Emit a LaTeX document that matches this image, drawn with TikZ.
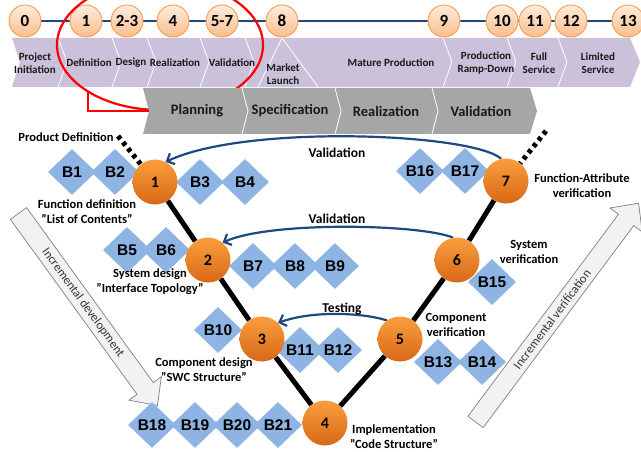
\documentclass[tikz,border=0pt]{standalone}
\usepackage{fontspec}
\setmainfont{Carlito}
\newfontfamily\arialfont{Liberation Sans}
\usetikzlibrary{shapes.geometric,arrows.meta,backgrounds}

\definecolor{lavender}{RGB}{204,193,218}
\definecolor{phasegray}{RGB}{166,166,166}
\definecolor{diamondblue}{RGB}{141,180,226}
\definecolor{arrowblue}{RGB}{31,73,125}
\definecolor{peachtop}{RGB}{253,236,222}
\definecolor{peachbot}{RGB}{250,190,140}
\definecolor{peachline}{RGB}{247,150,70}
\definecolor{orangetop}{RGB}{250,158,62}
\definecolor{orangebot}{RGB}{216,104,22}
\definecolor{incfill}{RGB}{242,242,242}
\definecolor{incline}{RGB}{127,127,127}

\begin{document}
\begin{tikzpicture}[x=1pt,y=-1pt,
  milestone/.style={circle,draw=peachline,line width=0.8pt,top color=peachtop,bottom color=peachbot,minimum size=32pt,inner sep=0pt,font=\fontsize{17}{17}\selectfont\bfseries},
  vnode/.style={circle,top color=orangetop,bottom color=orangebot,minimum size=45pt,inner sep=0pt,font=\fontsize{16}{16}\selectfont\bfseries},
  bbox/.style={diamond,fill=diamondblue,minimum width=48pt,minimum height=46pt,inner sep=0pt,font=\arialfont\fontsize{15.5}{15.5}\selectfont\bfseries},
  phase/.style={font=\fontsize{11}{13}\selectfont\bfseries,align=center,text=black!90},
  stage/.style={font=\fontsize{14.5}{14.5}\selectfont\bfseries,text=black!90},
  vlabel/.style={font=\fontsize{12.5}{15}\selectfont\bfseries,align=center},
  flowlabel/.style={font=\fontsize{13.5}{13.5}\selectfont\bfseries},
  flow/.style={draw=arrowblue,line width=2.2pt,-{Straight Barb[length=6pt,width=12pt]}},
  vline/.style={line width=5pt},
  incarrow/.style={fill=incfill,draw=incline,line width=0.7pt},
  inctext/.style={font=\fontsize{12.5}{12.5}\selectfont,text=black!80,transform shape}]

\useasboundingbox (0,0) rectangle (641,452);

\fill[lavender] (12,38) -- (630,38) -- (640,62) -- (630,87) -- (12,87) -- (20,62) -- cycle;

\foreach \bx in {58,112,147,200,245,443,507,558}
  \draw[white,line width=0.8pt] (\bx,38) -- (\bx+9,62) -- (\bx,87);

\draw[white,line width=0.8pt] (258,87) -- (282,38) -- (318,87);

\node[phase] (ph0) at (35,63) {Project\\Initiation};
\node[phase] (ph1) at (89,63) {Definition};
\node[phase] (ph2) at (131,63) {Design};
\node[phase] (ph3) at (175,63) {Realization};
\node[phase] (ph4) at (232,63) {Validation};
\node[phase] (ph5) at (283,74) {Market\\Launch};
\node[phase] (ph6) at (391,63) {Mature Production};
\node[phase] (ph7) at (486,63) {Production\\Ramp-Down};
\node[phase] (ph8) at (539,63) {Full\\Service};
\node[phase] (ph9) at (598,63) {Limited\\Service};

\node[milestone] (m0) at (25,21) {0};
\node[milestone] (m1) at (86,21) {1};
\node[milestone] (m23) at (127,21) {2-3};
\node[milestone] (m4) at (173,21) {4};
\node[milestone] (m57) at (222,21) {5-7};
\node[milestone] (m8) at (282,21) {8};
\node[milestone] (m9) at (444,21) {9};
\node[milestone] (m10) at (502,21) {10};
\node[milestone] (m11) at (535,21) {11};
\node[milestone] (m12) at (571,21) {12};
\node[milestone] (m13) at (628,21) {13};

\draw[red,line width=2.2pt] (160,45) ellipse [x radius=103, y radius=65];

\fill[phasegray] (143,88) -- (530,88) -- (537,111) -- (530,134) -- (143,134) -- (149,111) -- cycle;

\foreach \bx in {242,335,432}
  \draw[white,line width=0.8pt] (\bx,88) -- (\bx+6,111) -- (\bx,134);

\node[stage] (st1) at (197,111) {Planning};
\node[stage] (st2) at (290,111) {Specification};
\node[stage] (st3) at (386,111) {Realization};
\node[stage] (st4) at (481,111) {Validation};

\coordinate (redfoot) at (88,91);
\coordinate (plannotch) at (149,111);
\draw[red,line width=2.2pt] (redfoot) -- (88,111) -- (plannotch);

\begin{scope}[shift={(18.5,213.5)},rotate=-54.1]
  \filldraw[incarrow] (0,-10) -- (216,-10) -- (216,-20) -- (237,0) -- (216,20) -- (216,10) -- (0,10) -- cycle;
  \node[inctext] (incdev) at (110,0) {Incremental development};
\end{scope}

\begin{scope}[shift={(475.5,422)},rotate=53.3]
  \filldraw[incarrow] (0,-9.5) -- (252,-9.5) -- (252,-20) -- (273,0) -- (252,20) -- (252,9.5) -- (0,9.5) -- cycle;
  \node[inctext] (incver) at (128,0) {Incremental verification};
\end{scope}

\node[bbox] (b1) at (72,172) {B1};
\node[bbox] (b2) at (115,172) {B2};
\node[bbox] (b3) at (200,182) {B3};
\node[bbox] (b4) at (245,182) {B4};
\node[bbox] (b5) at (127,250) {B5};
\node[bbox] (b6) at (166,250) {B6};
\node[bbox] (b7) at (253,266) {B7};
\node[bbox] (b8) at (295,266) {B8};
\node[bbox] (b9) at (335,266) {B9};
\node[bbox] (b10) at (218,330) {B10};
\node[bbox] (b11) at (300,350) {B11};
\node[bbox] (b12) at (338,350) {B12};
\node[bbox] (b13) at (438,362) {B13};
\node[bbox] (b14) at (482,362) {B14};
\node[bbox] (b15) at (492,282) {B15};
\node[bbox] (b16) at (420,171) {B16};
\node[bbox] (b17) at (465,171) {B17};
\node[bbox] (b18) at (152,425) {B18};
\node[bbox] (b19) at (195,425) {B19};
\node[bbox] (b20) at (237,425) {B20};
\node[bbox] (b21) at (278,425) {B21};

\node[vnode] (n1) at (155,182) {1};
\node[vnode] (n2) at (208,260) {2};
\node[vnode] (n3) at (262,339) {3};
\node[vnode] (n4) at (325,423) {4};
\node[vnode] (n5) at (400,339) {5};
\node[vnode] (n6) at (457,260) {6};
\node[vnode] (n7) at (506,181) {7};

\coordinate (pdtop) at (118,136);
\coordinate (fatop) at (546,131);

\begin{pgfonlayer}{background}
  \draw[arrowblue,line width=1.5pt] (m0) -- (m13);
  \draw[vline] (n1) -- (n2) -- (n3) -- (n4) -- (n5) -- (n6) -- (n7);
  \draw[vline,dash pattern=on 4pt off 4pt] (pdtop) -- (n1);
  \draw[vline,dash pattern=on 4pt off 4pt] (fatop) -- (n7);
  \draw[flow] (n7.102) .. controls (472,133) and (245,124) .. (n1.62);
  \draw[flow] (n6.100) .. controls (420,224) and (270,221) .. (n2.50);
  \draw[flow] (n5.125) .. controls (360,312) and (310,311) .. (n3.45);
\end{pgfonlayer}

\node[flowlabel] (val1) at (337,153) {Validation};
\node[flowlabel] (val2) at (337,219) {Validation};
\node[flowlabel] (test) at (342,309) {Testing};

\node[vlabel] (pdlabel) at (66,137) {Product Definition};
\node[vlabel] (fdlabel) at (87,212) {Function definition\\”List of Contents”};
\node[vlabel] (sdlabel) at (150,282) {System design\\”Interface Topology”};
\node[vlabel] (cdlabel) at (204,370) {Component design\\”SWC Structure”};
\node[vlabel] (imlabel) at (394,437) {Implementation\\”Code Structure”};
\node[vlabel] (cvlabel) at (456,325) {Component\\verification};
\node[vlabel] (svlabel) at (529,252) {System\\verification};
\node[vlabel] (falabel) at (582,186) {Function-Attribute\\verification};

\end{tikzpicture}
\end{document}
